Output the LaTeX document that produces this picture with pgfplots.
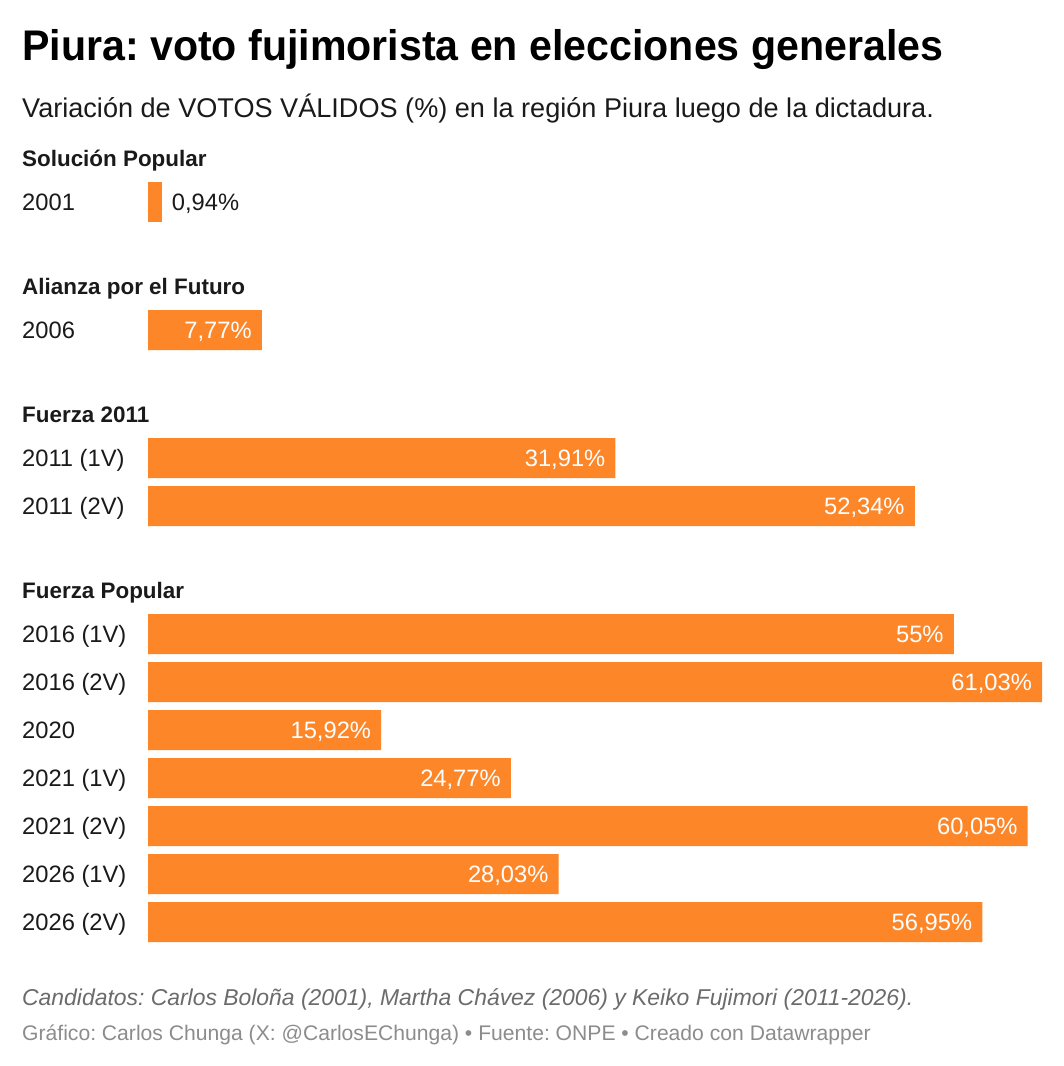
\documentclass[border=0pt]{standalone}
\usepackage{fontspec}
\setmainfont{Liberation Sans}
\newfontfamily\titlefont{Liberation Sans}[FakeStretch=0.96]
\usepackage{pgfplots}
\pgfplotsset{compat=1.18}
\definecolor{barc}{HTML}{FD8628}
\definecolor{txt}{HTML}{1A1A1A}
\definecolor{foota}{HTML}{6B6B6B}
\definecolor{footb}{HTML}{8C8C8C}
\newcommand{\lbl}{\fontsize{23.8}{28}\selectfont}
\frenchspacing
\begin{document}
\begin{tikzpicture}
\path[fill=white] (0,0) rectangle (1064bp,-1066bp);
\begin{axis}[at={(148bp,0)}, anchor=north west, x=14.65bp, y=1bp,
  xmin=0, xmax=62, ymin=0, ymax=1066, y dir=reverse,
  hide axis, clip=false, enlargelimits=false]
\addplot[xbar, bar width=40bp, fill=barc, draw=none,
  point meta=explicit symbolic, nodes near coords,
  every node near coord/.append style={anchor=east, xshift=-10bp, text=white,
    font=\lbl, text height=17bp, text depth=0pt, inner sep=0pt}]
  coordinates {
  (7.77,330) [7,77\%]
  (31.91,458) [31,91\%]
  (52.34,506) [52,34\%]
  (55,634) [55\%]
  (61.03,682) [61,03\%]
  (15.92,730) [15,92\%]
  (24.77,778) [24,77\%]
  (60.05,826) [60,05\%]
  (28.03,874) [28,03\%]
  (56.95,922) [56,95\%]
  };
\addplot[xbar, bar width=40bp, fill=barc, draw=none,
  point meta=explicit symbolic, nodes near coords,
  every node near coord/.append style={anchor=west, xshift=10bp, text=txt,
    font=\lbl, text height=17bp, text depth=0pt, inner sep=0pt}]
  coordinates {(0.94,202) [0,94\%]};
\end{axis}
% title and subtitle
\node[anchor=base west, inner sep=0pt, text=black, font=\titlefont\fontsize{43}{50}\selectfont\bfseries] at (22bp,-60bp) {Piura: voto fujimorista en elecciones generales};
\node[anchor=base west, inner sep=0pt, text=txt, font=\fontsize{27.2}{33}\selectfont] at (22bp,-117bp) {Variación de VOTOS VÁLIDOS (\%) en la región Piura luego de la dictadura.};
% group headers
\foreach \y/\t in {166/Solución Popular, 294/Alianza por el Futuro, 422/Fuerza 2011, 598/Fuerza Popular}
  \node[anchor=base west, inner sep=0pt, text=txt, font=\fontsize{22.5}{27}\selectfont\bfseries] at (22bp,-\y bp) {\t};
% category labels
\foreach \y/\t in {210/2001, 338/2006, 466/2011 (1V), 514/2011 (2V), 642/2016 (1V), 690/2016 (2V), 738/2020, 786/2021 (1V), 834/2021 (2V), 882/2026 (1V), 930/2026 (2V)}
  \node[anchor=base west, inner sep=0pt, text=txt, font=\lbl] at (22bp,-\y bp) {\t};
% footer
\node[anchor=base west, inner sep=0pt, text=foota, font=\fontsize{23}{27}\selectfont\itshape] at (22bp,-1005bp) {Candidatos: Carlos Boloña (2001), Martha Chávez (2006) y Keiko Fujimori (2011-2026).};
\node[anchor=base west, inner sep=0pt, text=footb, font=\fontsize{21.2}{25}\selectfont] at (22bp,-1040bp) {Gráfico: Carlos Chunga (X: @CarlosEChunga) • Fuente: ONPE • Creado con Datawrapper};
\end{tikzpicture}
\end{document}
